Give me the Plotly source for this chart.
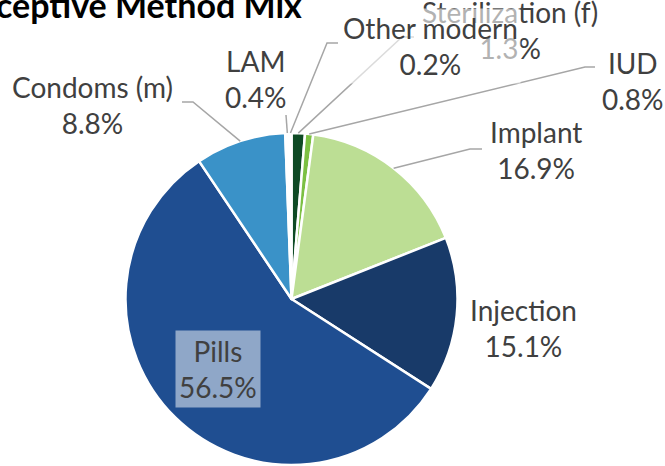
import math
import plotly.graph_objects as go

# ---- data ----
labels = ["Sterilization (f)", "IUD", "Implant", "Injection", "Pills", "Condoms (m)", "LAM", "Other modern"]
values = [1.3, 0.8, 16.9, 15.1, 56.5, 8.8, 0.4, 0.2]
colors = ["#0E4A24", "#7CC043", "#BCDE94", "#183A69", "#1F4E91", "#3A92C8", "#FFFFFF", "#FFFFFF"]
title_text = "Contraceptive Method Mix"

# ---- layout constants (pixels) ----
W, H = 665, 466
PIE_CX, PIE_CY, PIE_R = 291.5, 299.0, 166.0
FONT = "Lato"
FS = 28
TXT = "#404040"
LINE = "#A6A6A6"

label_pos = {
    "Sterilization (f)": (510, 30),
    "IUD": (633, 81),
    "Implant": (536, 150),
    "Injection": (523, 328),
    "Pills": (218, 369),
    "Condoms (m)": (92, 105),
    "LAM": (256, 79),
    "Other modern": (431, 46),
}
elbows = {
    "Sterilization (f)": [(402, 37), (414, 37)],
    "IUD": [(585, 67), (595, 67)],
    "Implant": [(470, 149), (482, 149)],
    "Condoms (m)": [(193, 102), (182, 102)],
    "LAM": [(286, 115)],
    "Other modern": [(327, 43), (338, 43)],
}

def px(x):
    return x / W

def py(y):
    return 1 - y / H

fig = go.Figure(go.Pie(
    labels=labels, values=values, sort=False, direction="clockwise", rotation=0,
    marker=dict(colors=colors, line=dict(color="white", width=2.5)),
    textinfo="none", showlegend=False, hoverinfo="label+percent",
    domain=dict(x=[px(PIE_CX - PIE_R), px(PIE_CX + PIE_R)],
                y=[py(PIE_CY + PIE_R), py(PIE_CY - PIE_R)]),
))

total = sum(values)
shapes = []
annotations = []
cum = 0.0
mid_angles = {}
for lab, v in zip(labels, values):
    mid = (cum + v / 2) / total * 2 * math.pi
    mid_angles[lab] = mid
    cum += v

for lab, pts in elbows.items():
    a = mid_angles[lab]
    sx = PIE_CX + PIE_R * math.sin(a)
    sy = PIE_CY - PIE_R * math.cos(a)
    path = f"M {px(sx)},{py(sy)}" + "".join(f" L {px(x)},{py(y)}" for x, y in pts)
    shapes.append(dict(type="path", xref="paper", yref="paper", path=path,
                       line=dict(color=LINE, width=1.5), layer="above"))

pct = {lab: f"{v:.1f}%" for lab, v in zip(labels, values)}
order = ["Sterilization (f)", "IUD", "Implant", "Injection", "Condoms (m)", "LAM", "Other modern", "Pills"]
for lab in order:
    x, y = label_pos[lab]
    kw = {}
    if lab == "Pills":
        kw = dict(bgcolor="rgba(255,255,255,0.5)", borderpad=3)
    if lab == "Other modern":
        kw = dict(bgcolor="rgba(255,255,255,0.6)", borderpad=2)
    annotations.append(dict(
        x=px(x), y=py(y), xref="paper", yref="paper", showarrow=False,
        text=f"{lab}<br>{pct[lab]}", align="center", xanchor="center", yanchor="middle",
        font=dict(family=FONT, size=FS, color=TXT), **kw))

annotations.append(dict(
    x=px(304), y=py(5), xref="paper", yref="paper", showarrow=False,
    text=f"<b>{title_text}</b>", xanchor="right", yanchor="middle",
    font=dict(family=FONT, size=34, color="#000000")))

fig.update_layout(
    width=W, height=H, margin=dict(l=0, r=0, t=0, b=0),
    paper_bgcolor="white", plot_bgcolor="white",
    shapes=shapes, annotations=annotations,
)
fig.write_html("out.html", config={"displayModeBar": False},
               post_script="document.body.style.margin='0';")
